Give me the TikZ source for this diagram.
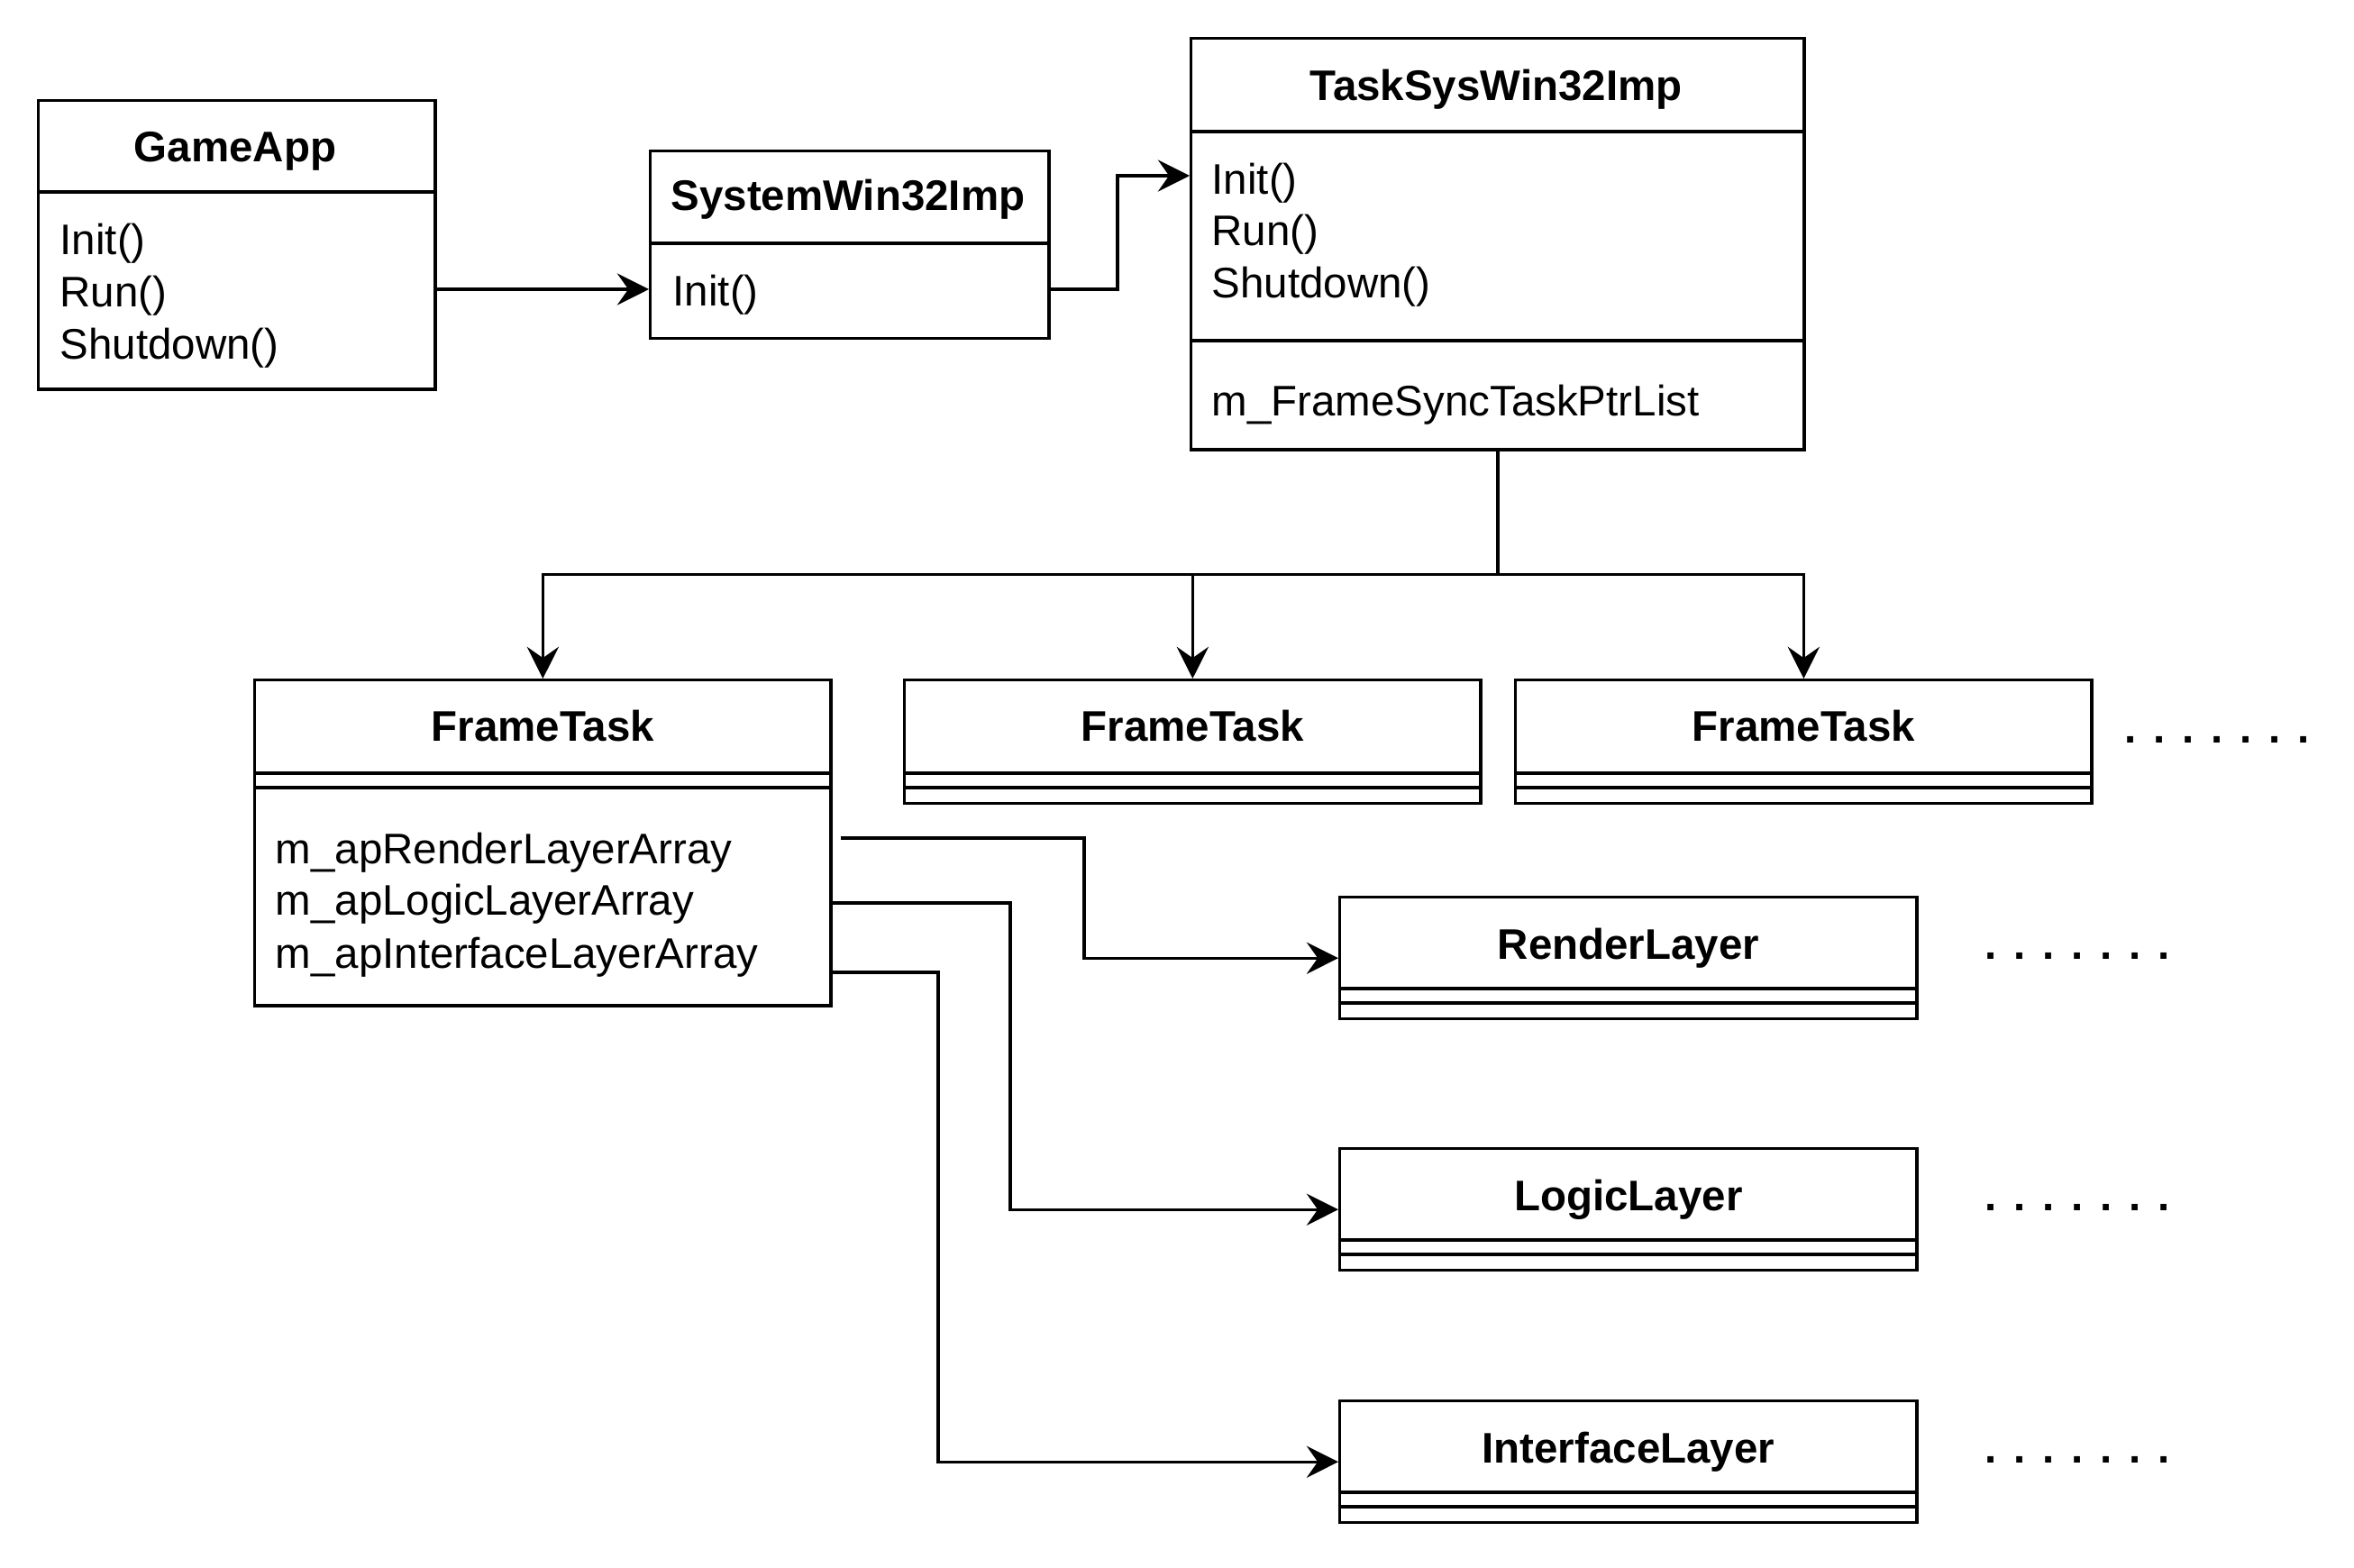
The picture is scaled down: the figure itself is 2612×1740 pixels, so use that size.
\documentclass[tikz,border=0pt]{standalone}
\usepackage{fontspec}
\setmainfont{Liberation Sans}
\usetikzlibrary{arrows.meta,calc}
\newcommand{\moredots}{\textbf{.\hspace{5.35pt}.\hspace{5.35pt}.\hspace{5.35pt}.\hspace{5.35pt}.\hspace{5.35pt}.\hspace{5.35pt}.}}
\begin{document}
\begin{tikzpicture}[x=0.01cm,y=-0.01cm,line width=0.95pt,
  box/.style={draw,anchor=north west,inner sep=0pt},
  title/.style={anchor=base,inner sep=0pt,font=\fontsize{13.5}{16}\selectfont\bfseries},
  member/.style={anchor=base west,inner sep=0pt,font=\fontsize{13.5}{16}\selectfont},
  conn/.style={-{Stealth[length=10pt,width=10pt,inset=3.5pt]}}]
\useasboundingbox (0,0) rectangle (2612,1740);
\node[box,minimum width=4.40cm,minimum height=3.20cm] (game) at (41,110) {};
\node[box,minimum width=4.42cm,minimum height=2.08cm] (sys) at (720,166) {};
\node[box,minimum width=6.80cm,minimum height=4.56cm] (task) at (1320,41) {};
\node[box,minimum width=6.39cm,minimum height=3.61cm] (ft1) at (281,753) {};
\node[box,minimum width=6.39cm,minimum height=1.37cm] (ft2) at (1002,753) {};
\node[box,minimum width=6.39cm,minimum height=1.37cm] (ft3) at (1680,753) {};
\foreach \n/\t/\y in {render/RenderLayer/994,logic/LogicLayer/1273,iface/InterfaceLayer/1553}{
  \node[box,minimum width=6.40cm,minimum height=1.35cm] (\n) at (1485,\y) {};
  \node[title] (\n t) at ($(\n.north)+(0,70)$) {\t};
  \draw ($(\n.north west)+(0,103)$) -- ($(\n.north east)+(0,103)$);
  \draw ($(\n.north west)+(0,119)$) -- ($(\n.north east)+(0,119)$);
  \node[member] (\n dots) at ($(\n.north east)+(72,70)$) {\moredots};
}
\foreach \n/\y in {game/213,sys/270,task/146,task/378}\draw (\n.west |- 0,\y) -- (\n.east |- 0,\y);
\foreach \n in {ft1,ft2,ft3}\draw (\n.west |- 0,858) -- (\n.east |- 0,858) (\n.west |- 0,874) -- (\n.east |- 0,874);
\node[title] (gamet) at (261,180) {GameApp};
\node[member] (gameinit) at (65,283) {Init()};
\node[member] (gamerun) at (65,341) {Run()};
\node[member] (gameshut) at (65,399) {Shutdown()};
\node[title] (syst) at (941,234) {SystemWin32Imp};
\node[member] (sysinit) at (745,340) {Init()};
\node[title] (taskt) at (1660,112) {TaskSysWin32Imp};
\node[member] (taskinit) at (1343,216) {Init()};
\node[member] (taskrun) at (1343,273) {Run()};
\node[member] (taskshut) at (1343,331) {Shutdown()};
\node[member] (tasklist) at (1343,462) {m\_FrameSyncTaskPtrList};
\foreach \n in {ft1,ft2,ft3}\node[title] (\n t) at ($(\n.north)+(0,70)$) {FrameTask};
\node[member] (ftrender) at (304,958) {m\_apRenderLayerArray};
\node[member] (ftlogic) at (304,1015) {m\_apLogicLayerArray};
\node[member] (ftiface) at (304,1074) {m\_apInterfaceLayerArray};
\node[member] (ftdots) at (2356,824) {\moredots};
\draw[conn] (game.east |- 0,321) -- (sys.west |- 0,321);
\draw[conn] (sys.east |- 0,321) -- (1240,321) |- (task.west |- 0,195);
\draw (task.south) -- ++(0,137) coordinate (bus);
\foreach \n in {ft1,ft2,ft3}\draw[conn] (bus) -| (\n.north);
\draw[conn] ($(ft1.east |- 0,930)+(9,0)$) -- (1203,930) |- (render.west);
\draw[conn] (ft1.east |- 0,1002) -- (1121,1002) |- (logic.west);
\draw[conn] (ft1.east |- 0,1079) -- (1041,1079) |- (iface.west);
\end{tikzpicture}
\end{document}
